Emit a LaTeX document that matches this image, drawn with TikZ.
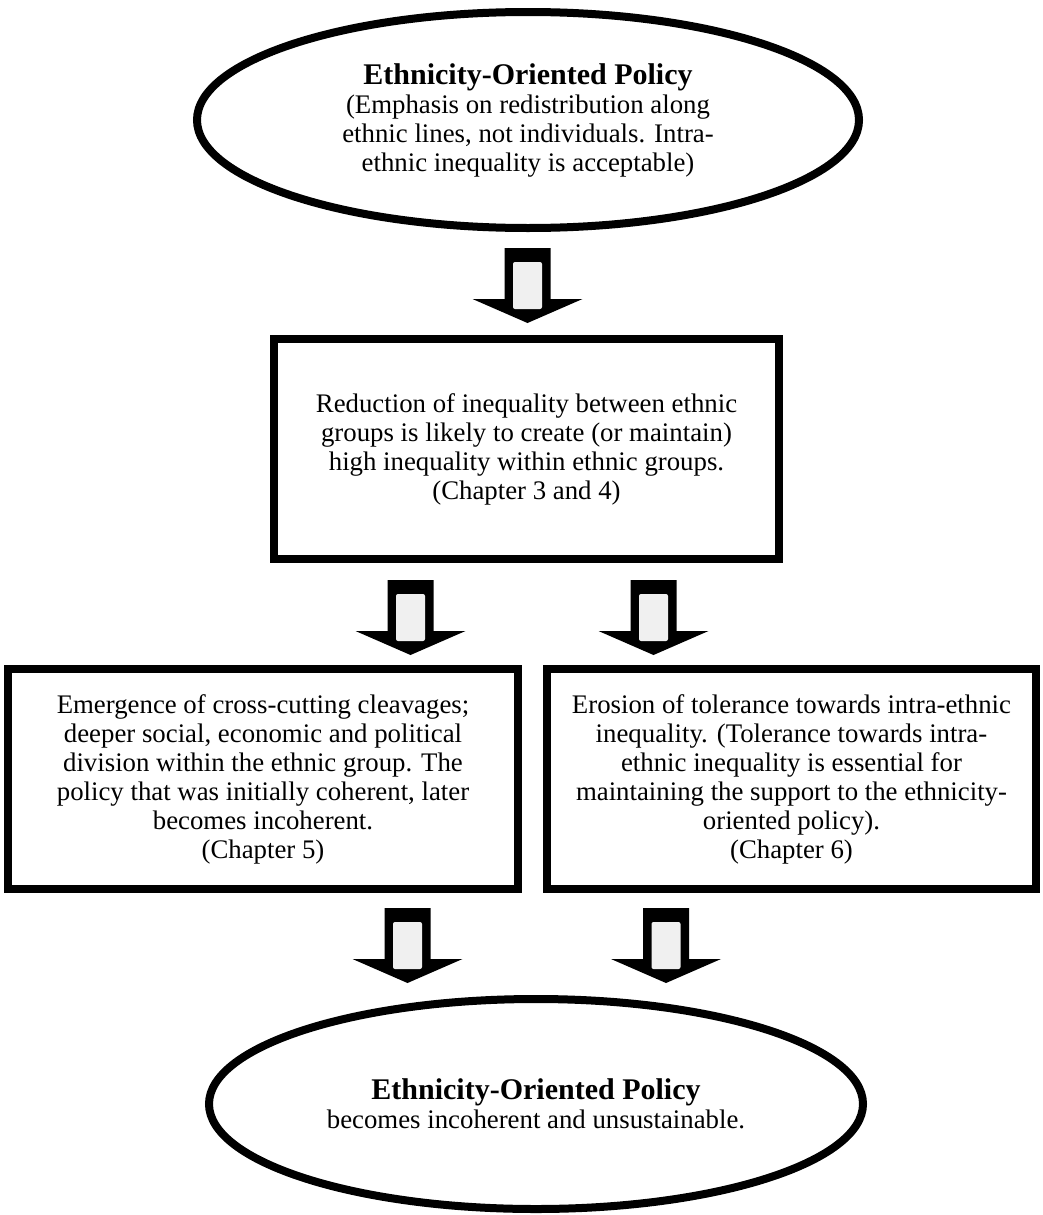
\documentclass[tikz,border=0pt]{standalone}
\usepackage{fontspec}
\setmainfont{Liberation Serif}
\usetikzlibrary{shapes.geometric}

\tikzset{
  oval/.style={ellipse, draw, line width=4pt, align=center, inner sep=0pt,
    font=\fontsize{13.4}{14.5}\selectfont},
  frame/.style={rectangle, draw, line width=4pt, align=center, inner sep=0pt,
    font=\fontsize{13.4}{14.5}\selectfont},
  fatarrow/.pic={
    \fill (-23,0) -- (23,0) -- (23,51) -- (55,51) -- (0,75) -- (-55,51) -- (-23,51) -- cycle;
    \fill[gray!12, rounded corners=1pt] (-14.5,14) rectangle (14.5,61);
  }
}
\newcommand{\ttl}[1]{{\fontsize{15}{14.5}\selectfont\bfseries #1}}

\begin{document}
\begin{tikzpicture}[x=0.5pt,y=-0.5pt]
\useasboundingbox (0,0) rectangle (1043,1215);

% policy at the start
\node[oval, minimum width=331pt, minimum height=108pt] (pol) at (528,120)
  {\ttl{Ethnicity-Oriented Policy}\\(Emphasis on redistribution along\\ethnic lines, not individuals. Intra-\\ethnic inequality is acceptable)};

% between and within groups
\node[frame, minimum width=252.5pt, minimum height=110pt] (red) at (526.5,449)
  {Reduction of inequality between ethnic\\groups is likely to create (or maintain)\\high inequality within ethnic groups.\\(Chapter 3 and 4)};

\node[frame, minimum width=255pt, minimum height=110pt] (cleav) at (263,779)
  {Emergence of cross-cutting cleavages;\\deeper social, economic and political\\division within the ethnic group. The\\policy that was initially coherent, later\\becomes incoherent.\\(Chapter 5)};
\node[frame, minimum width=244.5pt, minimum height=110pt] (toler) at (791.5,779)
  {Erosion of tolerance towards intra-ethnic\\inequality. (Tolerance towards intra-\\ethnic inequality is essential for\\maintaining the support to the ethnicity-\\oriented policy).\\(Chapter 6)};

% policy at the end
\node[oval, minimum width=327pt, minimum height=105pt] (incoh) at (536,1104)
  {\ttl{Ethnicity-Oriented Policy}\\becomes incoherent and unsustainable.};

% block arrows
\coordinate (a1) at (527.5,248);
\coordinate (a2) at (410.5,580);
\coordinate (a3) at (653.5,580);
\coordinate (a4) at (407.5,908);
\coordinate (a5) at (666,908);
\foreach \a in {a1,a2,a3,a4,a5}
  \pic at (\a) {fatarrow};
\end{tikzpicture}
\end{document}
